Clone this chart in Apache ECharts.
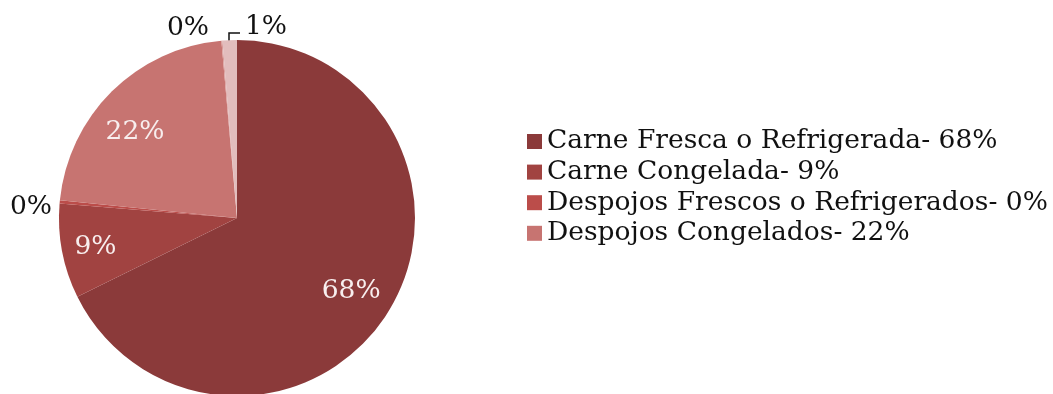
<!DOCTYPE html>
<html><head><meta charset="utf-8">
<script src="https://cdn.jsdelivr.net/npm/echarts@6/dist/echarts.min.js"></script>
<style>html,body{margin:0;padding:0;background:#fff}#c{width:1053px;height:394px}</style>
</head><body><div id="c"></div>
<script>
const categories = ['Carne Fresca o Refrigerada- 68%','Carne Congelada- 9%','Despojos Frescos o Refrigerados- 0%','Despojos Congelados- 22%','Otros A','Otros B'];
const values = [67.7, 8.6, 0.3, 22.0, 0.1, 1.3];
const labels = ['68%','9%','0%','22%','0%','1%'];
const colors = ['#8B3A3A','#A14341','#BB4D4A','#C77471','#D99A98','#E2BDBD'];
const legendNames = categories.slice(0,4);
const font = 'DejaVu Serif';
const FS = 26.5;
const CX = 237, CY = 218, R = 178;
const chart = echarts.init(document.getElementById('c'));
const big = [0,1,3];
const mainData = values.map((v,i)=>({
  name: categories[i], value: v,
  itemStyle:{color: colors[i]},
  label: big.includes(i) ? {show:false} : {show:true, position:'outside', formatter: labels[i], color:'#111', fontSize:FS, fontFamily:font},
  labelLine: {show: i===5, lineStyle:{color:'#111', width:1.5}}
}));
const overlayData = values.map((v,i)=>({
  name: categories[i], value: v,
  itemStyle:{color:'rgba(0,0,0,0)'},
  label: big.includes(i) ? {show:true, position:'inside', formatter: labels[i], color:'#f8eeee', fontSize:FS, fontFamily:font} : {show:false}
}));
// label placement tweaks (layout only)
const nudges = {
  '1-0':{dx:-3,dy:0}, '1-1':{dx:-6,dy:3}, '1-3':{dx:-5,dy:12}
};
function layout(p){
  const k = p.seriesIndex + '-' + p.dataIndex;
  if (p.seriesIndex === 0) {
    if (p.dataIndex === 2) return {x: CX - R - 28, y: CY - 11, align:'center', verticalAlign:'middle'};
    if (p.dataIndex === 4) return {x: CX - 49, y: CY - R - 12, align:'center', verticalAlign:'middle'};
    if (p.dataIndex === 5) return {x: CX + 8, y: CY - R - 13, align:'left', verticalAlign:'middle',
      labelLinePoints:[[CX - 8, CY - R + 1],[CX - 8, CY - R - 7],[CX + 3, CY - R - 7]]};
    return {};
  }
  return nudges[k] || {};
}
chart.setOption({
  animation:false,
  color: colors,
  legend:{
    data: legendNames, orient:'vertical', left:522, top:123,
    icon:'rect', itemWidth:15, itemHeight:15, itemGap:3.6,
    textStyle:{fontFamily:font, fontSize:FS, color:'#111', padding:[0,0,0,0]},
    selectedMode:false
  },
  series:[
    {type:'pie', center:[CX,CY], radius:R, startAngle:90, clockwise:true, avoidLabelOverlap:false,
     data: mainData, emphasis:{disabled:true}, silent:true, labelLayout: layout},
    {type:'pie', center:[CX,CY], radius:270, startAngle:90, clockwise:true, avoidLabelOverlap:false,
     data: overlayData, emphasis:{disabled:true}, silent:true, labelLine:{show:false}, labelLayout: layout}
  ]
});
</script></body></html>
